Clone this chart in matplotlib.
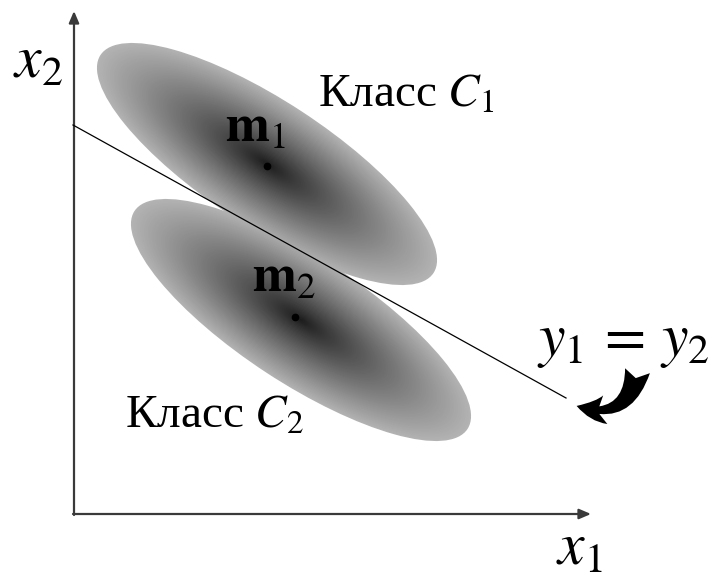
import matplotlib
matplotlib.use('Agg')
import matplotlib.pyplot as plt
from matplotlib.patches import Ellipse, FancyArrowPatch

# шрифты как в Times
plt.rcParams['mathtext.fontset'] = 'stix'
plt.rcParams['font.family'] = ['Liberation Serif', 'DejaVu Serif']

# данные схемы (в пикселях картинки)
class_names = ['Класс $C_1$', 'Класс $C_2$']
mean_labels = [r'$\mathbf{m}_1$', r'$\mathbf{m}_2$']
mean_x = [267, 295]
mean_y = [166, 317]
cloud_x = [267, 301]
cloud_y = [164, 320]
cloud_a = [199, 199]
cloud_b = [63, 63]
cloud_angle = [33.2, 33.2]
boundary_x = [73, 566]
boundary_y = [125, 398]

fig = plt.figure(figsize=(7.1, 5.84), dpi=100)
ax = fig.add_axes([0, 0, 1, 1])
ax.set_xlim(0, 710)
ax.set_ylim(584, 0)
ax.axis('off')

# облака классов - градиент от серого к чёрному
n_levels = 90
for cx, cy, a, b, ang in zip(cloud_x, cloud_y, cloud_a, cloud_b, cloud_angle):
    for k in range(n_levels):
        r = 1 - k / n_levels
        g = 0.10 + 0.60 * r ** 0.85
        ax.add_patch(Ellipse((cx, cy), 2 * a * r, 2 * b * r, angle=ang,
                             facecolor=(g, g, g), edgecolor='none', zorder=1 + k * 0.001))

# оси
ax.annotate('', xy=(74, 11), xytext=(74, 515),
            arrowprops=dict(arrowstyle='-|>,head_length=0.7,head_width=0.3',
                            color='#3a3a3a', lw=1.6, shrinkA=0, shrinkB=0))
ax.annotate('', xy=(591, 514), xytext=(73, 514),
            arrowprops=dict(arrowstyle='-|>,head_length=0.7,head_width=0.3',
                            color='#3a3a3a', lw=1.6, shrinkA=0, shrinkB=0))

# разделяющая прямая
ax.plot(boundary_x, boundary_y, color='black', lw=0.9, zorder=3)

# средние
ax.plot(mean_x, mean_y, 'o', color='black', markersize=4.5, zorder=4)
ax.text(225, 142, mean_labels[0], fontsize=38, va='baseline', ha='left', zorder=5)
ax.text(252, 292, mean_labels[1], fontsize=38, va='baseline', ha='left', zorder=5)

# подписи классов
ax.text(318, 107, class_names[0], fontsize=34, va='baseline', ha='left')
ax.text(125, 428, class_names[1], fontsize=34, va='baseline', ha='left')

# подписи осей
ax.text(13, 78, '$x_2$', fontsize=43, va='baseline', ha='left')
ax.text(556, 565, '$x_1$', fontsize=43, va='baseline', ha='left')

# уравнение границы и стрелка
ax.text(537, 355, r'$y_1\,=\,y_2$', fontsize=43, va='baseline', ha='left')
arrow = FancyArrowPatch((638, 368), (574, 405),
                        connectionstyle='arc3,rad=-0.6',
                        arrowstyle='fancy,head_length=0.8,head_width=0.8,tail_width=0.7',
                        mutation_scale=26, color='black', lw=0, zorder=5)
ax.add_patch(arrow)

plt.savefig('out.png', dpi=100)
